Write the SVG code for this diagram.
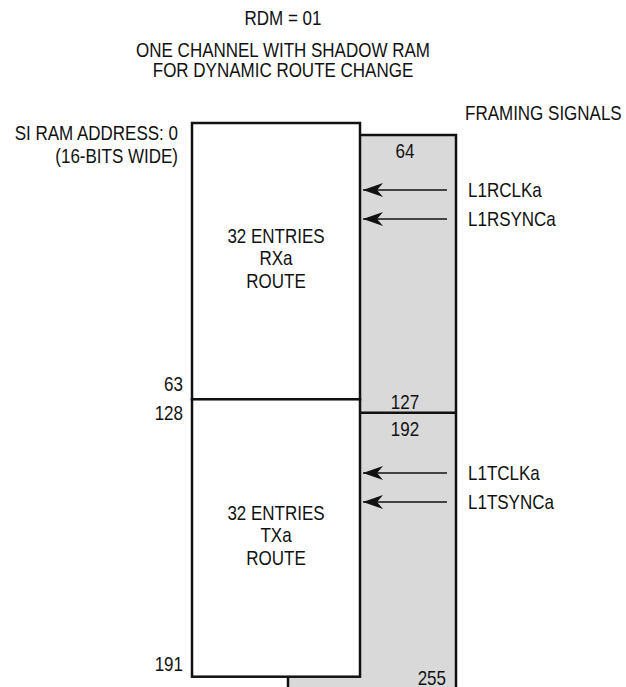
<svg xmlns="http://www.w3.org/2000/svg" width="626" height="687" viewBox="0 0 626 687">
<style>
text{font-family:"Liberation Sans Narrow","Liberation Sans",Arial,sans-serif;font-size:20px;fill:#111;}
.c{text-anchor:middle}
.r{text-anchor:end}
.box{stroke:#111;stroke-width:2.5;}
.sig{stroke:#111;stroke-width:1.3;fill:none;marker-end:url(#ah)}
</style>
<defs>
<marker id="ah" markerUnits="userSpaceOnUse" markerWidth="22" markerHeight="16" viewBox="0 -8 22 16" refX="20" refY="0" orient="auto">
<path d="M20,0 L0,-7 L6,0 L0,7 Z" fill="#111"/>
</marker>
</defs>
<rect width="626" height="687" fill="#fff"/>
<g id="title">
<text class="c" transform="translate(283,25) scale(0.85,1)">RDM = 01</text>
<text class="c" transform="translate(283,57) scale(0.85,1)">ONE CHANNEL WITH SHADOW RAM</text>
<text class="c" transform="translate(283,77) scale(0.85,1)">FOR DYNAMIC ROUTE CHANGE</text>
</g>
<g id="shadow-ram">
<rect class="box" x="288" y="135" width="168" height="570" fill="#d9d9d9"/>
<line class="box" x1="360" y1="412.7" x2="456" y2="412.7"/>
<text class="c" transform="translate(405,158) scale(0.85,1)">64</text>
<text class="c" transform="translate(405,409) scale(0.85,1)">127</text>
<text class="c" transform="translate(405,436) scale(0.85,1)">192</text>
<text class="r" transform="translate(446,685) scale(0.85,1)">255</text>
</g>
<g id="rx-route">
<rect class="box" x="192" y="123" width="168" height="276.3" fill="#fff"/>
<text class="c" transform="translate(276,243) scale(0.85,1)">32 ENTRIES</text>
<text class="c" transform="translate(276,265) scale(0.85,1)">RXa</text>
<text class="c" transform="translate(276,288) scale(0.85,1)">ROUTE</text>
</g>
<g id="tx-route">
<rect class="box" x="192" y="399.3" width="168" height="277.4" fill="#fff"/>
<text class="c" transform="translate(276,520) scale(0.85,1)">32 ENTRIES</text>
<text class="c" transform="translate(276,542) scale(0.85,1)">TXa</text>
<text class="c" transform="translate(276,565) scale(0.85,1)">ROUTE</text>
</g>
<g id="addresses">
<text class="r" transform="translate(178,140) scale(0.85,1)">SI RAM ADDRESS: 0</text>
<text class="r" transform="translate(178,163) scale(0.85,1)">(16-BITS WIDE)</text>
<text class="r" transform="translate(183,391) scale(0.85,1)">63</text>
<text class="r" transform="translate(183,420) scale(0.85,1)">128</text>
<text class="r" transform="translate(183,671) scale(0.85,1)">191</text>
</g>
<g id="signals">
<text transform="translate(465,120) scale(0.85,1)">FRAMING SIGNALS</text>
<text transform="translate(468,197) scale(0.85,1)">L1RCLKa</text>
<text transform="translate(468,226) scale(0.85,1)">L1RSYNCa</text>
<text transform="translate(468,480) scale(0.85,1)">L1TCLKa</text>
<text transform="translate(468,509) scale(0.85,1)">L1TSYNCa</text>
</g>
<g id="connectors">
<line class="sig" x1="447" y1="190" x2="363" y2="190"/>
<line class="sig" x1="447" y1="219" x2="363" y2="219"/>
<line class="sig" x1="447" y1="473" x2="363" y2="473"/>
<line class="sig" x1="447" y1="502" x2="363" y2="502"/>
</g>
</svg>
